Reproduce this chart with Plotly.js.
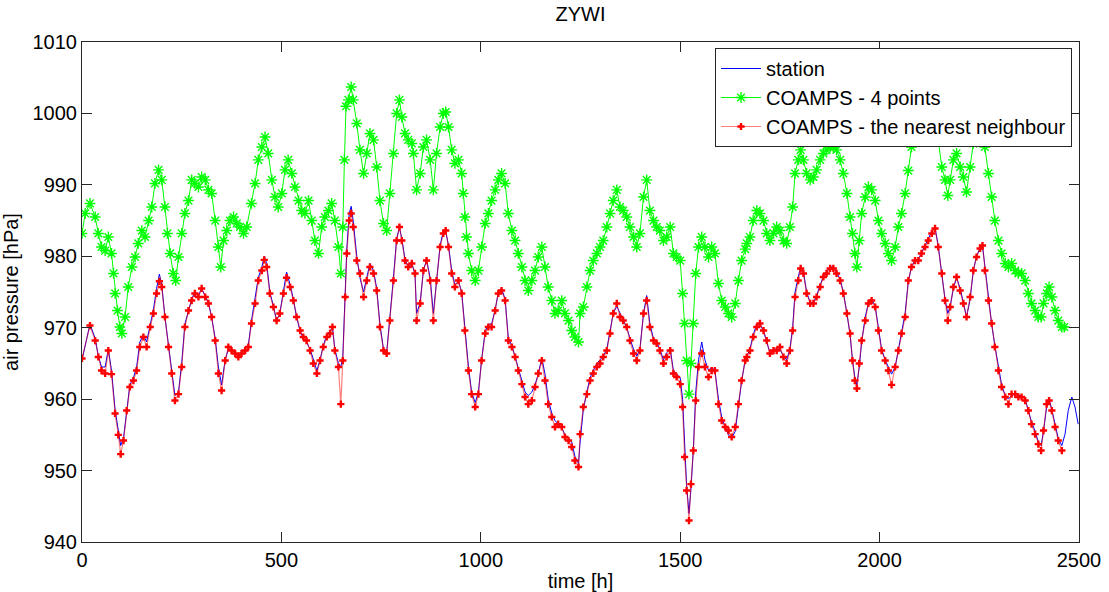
<!DOCTYPE html>
<html><head><meta charset="utf-8">
<script src="https://cdn.plot.ly/plotly-3.0.1.min.js"></script>
<style>html,body{margin:0;padding:0;background:#fff}#chart{width:1109px;height:592px}</style>
</head><body><div id="chart"></div>
<script>
// time [h] of readings for the model series (nearest neighbour) and station
const tModel = [
0,20,33,41,49,58,66,74,83,91,
97,104,112,120,129,137,145,154,162,171,
179,187,194,200,208,217,225,233,242,250,
258,267,275,283,292,300,309,317,325,334,
342,350,359,367,375,384,392,400,409,417,
425,434,442,451,457,463,471,480,488,496,
505,513,522,530,538,547,555,563,572,580,
589,597,605,614,622,628,634,643,649,654,
660,664,670,675,680,689,697,706,714,722,
731,739,747,756,764,772,781,789,796,802,
810,818,827,835,839,848,856,864,873,881,
889,898,906,912,919,927,935,944,952,960,
969,977,986,994,1002,1011,1019,1027,1036,1044,
1052,1061,1069,1078,1086,1094,1103,1111,1119,1128,
1136,1144,1153,1161,1169,1178,1186,1194,1203,1211,
1220,1228,1236,1245,1249,1257,1266,1274,1282,1291,
1299,1307,1316,1324,1332,1341,1349,1357,1366,1374,
1383,1391,1399,1408,1416,1424,1433,1441,1449,1458,
1466,1475,1483,1491,1500,1506,1511,1516,1522,1527,
1533,1539,1546,1554,1562,1571,1579,1587,1596,1604,
1613,1621,1629,1638,1646,1654,1663,1667,1675,1683,
1692,1700,1709,1717,1725,1734,1742,1750,1759,1767,
1775,1782,1788,1796,1802,1809,1817,1826,1834,1842,
1851,1859,1867,1876,1884,1892,1901,1909,1918,1926,
1932,1938,1943,1949,1955,1964,1972,1980,1989,1997,
2005,2014,2022,2030,2039,2047,2055,2064,2072,2080,
2089,2097,2105,2114,2122,2131,2139,2147,2156,2164,
2171,2177,2185,2193,2202,2210,2218,2227,2235,2243,
2252,2258,2264,2273,2281,2289,2298,2306,2315,2323,
2331,2340,2348,2356,2365,2373,2381,2390,2398,2405,
2411,2419,2425,2432,2440,2448,2457
];
// COAMPS - the nearest neighbour [hPa]
const pNearest = [
965.7,970.3,968.2,965.9,964,963.6,966.8,963.5,958,955,
952.3,954.2,958.4,961.7,962.6,964,967.3,968.7,967.3,970.1,
972,974.8,976.5,975.7,971.5,967.3,963.6,959.8,960.7,964.5,
970.1,972.4,973.8,974.8,974.3,975.5,974.3,973.4,971.5,968.2,
963.6,961.2,965.4,967.3,966.8,966.4,965.9,966.4,966.8,967.3,
970.6,973.4,976.6,978,979.5,978.5,974.8,972.9,971,972,
974.8,977,975.7,973.8,971.5,969.6,968.7,968.2,966.8,965,
963.6,965.4,967.3,968.7,969.2,970.1,966.8,964.5,959.3,965.4,
974.3,980.4,985,986,984.1,979.4,977.6,974.3,976.6,978.5,
977.6,975.2,970.1,966.8,966.4,971,976.6,982.2,984.1,982.2,
979.4,978.5,979,977.6,971,973.4,978,979.4,976.6,971,
976.6,981.3,983.2,983.6,981.3,977.6,975.7,976.6,974.8,969.6,
964,960.7,958.9,960.7,965.4,969.2,970.1,970.1,972.4,974.8,
975.2,973.8,968.2,967.3,965.9,964,962.1,960.3,959.3,959.8,
961.7,963.6,965.4,962.6,959.3,957.5,956.1,956.5,956.1,954.7,
954.2,953.3,951.4,950.5,955.1,958.9,960.7,962.6,963.6,964.5,
965,965.9,966.8,969.2,972,973.4,971.5,971,970.1,968.2,
966.4,965.4,966.8,972,973.8,970.1,968.2,967.8,966.8,965,
965.9,966.8,963.6,963.1,962.1,958.9,951.9,947.2,943,948.1,
952.8,959.8,964.5,966.4,964.5,963.1,964,964,959.3,957,
956.1,955.6,954.7,956.1,959.3,962.6,965.4,965.9,966.8,968.7,
970.1,970.6,969.6,968.2,966.4,966.8,966.8,967.3,965.9,965,
966.8,969.6,974.3,976.6,978.3,977.6,974.8,973.4,973.4,974.3,
975.7,977.1,977.6,978.3,978.3,977.6,976.6,974.8,972,969.2,
965.4,962.6,961.5,965,968.2,971,973.4,973.8,972.9,969.6,
966.8,965.4,964,962,964.5,966.8,969.2,971.5,976.6,978.5,
979.4,979.4,980.4,981.3,982.2,983.2,983.9,981.3,977.6,973.8,
971,972.9,975.7,977.1,975.2,973.4,971.5,974.3,978,979.9,
981.1,981.5,978,973.8,970.6,967.3,964,961.7,960.3,959.3,
960.7,960.7,960.3,960.3,959.8,958.4,956.5,955.1,953.7,952.8,
955.6,959.3,959.8,958.4,956.1,954.2,952.8
];
// station [hPa], same hours as tModel plus the tail below
const pStation = [
965.5,970.5,968.5,966,964.5,964.5,967,964,958.5,955.5,
953.5,954.5,958.5,962,963,964.5,968,969,968,970.5,
972.5,975.5,977.5,976,971.5,967.5,964,960.5,961,965,
970.5,972.5,974,975,974.5,975.5,974.5,973.5,971.5,968.5,
964.5,962,965.5,967,967,966.5,966,966.5,967,967.5,
971,974,977,978.5,980,979,975,973,971,972,
975,977.8,976,974,971.5,969.5,968.5,968,967,965.5,
964,965.5,967.5,969,969.5,970,967,965,964.5,966,
975,981,986,987,985,980,977,975,977,979,
978,975.5,970.5,967,966.5,971,977,982.5,984,982.5,
979.5,978.5,979,977.5,972,973.5,978,979.5,977,972,
977,981.5,983.5,983.5,981.5,978,976,976.5,975,970,
964.5,961,959.5,961,965.5,969.5,970.5,970.5,972.5,975,
975.5,974,968.5,967.5,966,964.5,962.5,961,960.5,961,
962,963.5,965.8,963.5,960,958,957,956.5,956,955,
954.5,954,952,951,954,958.5,961,963,964,965,
965.5,966,967,969.5,972,973,972,971,970,968.5,
967,966,967,972,974.5,970.5,968.5,968,967,965.5,
966.5,967,964,963.5,963,960,953,948,944,947.5,
953,961,965.5,968,965.5,964,964.5,964,960,957.5,
956,955,954.5,955.5,959,962.5,965.5,966,967,969,
970.5,970.5,969.5,968,966.5,967,967,967,966,965.5,
967,970,975,977,978.6,977.8,975,973.5,973.5,974.5,
976,977.2,977.8,978.5,978.5,977.8,976.8,975,972,969,
965.5,963,962,964.5,968,971.5,973.5,974,973,970,
967,965.5,964.5,963.5,964.5,967,969.5,972,976.5,978.5,
979.5,979.5,980.5,981.5,982.5,983.5,984,981.5,977.5,974,
972,973,975.5,977,975.5,973.5,971.5,974,978,980,
981.2,981.5,978.5,974,970.5,967.5,964.5,962,960.5,960,
960.5,960.8,960.5,960.5,960,958.5,956.8,955.5,954,953.5,
955.5,959,960,958.5,956.5,954.5,953.5
];
const tStationTail = [2465,2473,2482,2490,2498];
const pStationTail = [955.1,958.4,960.3,958.9,956.5];

// COAMPS - 4 points
const t4 = [
0,8,20,33,41,49,58,66,74,79,
83,89,95,100,108,116,125,133,141,150,
158,167,175,183,192,200,208,214,221,229,
235,242,250,258,267,275,283,292,300,309,
317,325,334,342,348,355,363,371,380,388,
396,405,413,425,434,442,451,459,467,476,
484,492,501,509,517,526,534,543,551,559,
568,576,584,593,601,609,618,626,634,643,
649,654,658,662,668,675,680,689,697,706,
714,722,731,739,747,756,764,772,781,789,
796,802,810,818,827,831,839,848,856,864,
873,881,889,898,906,912,919,927,935,944,
952,956,960,964,969,977,986,994,1002,1011,
1019,1027,1036,1044,1052,1061,1069,1078,1086,1094,
1103,1111,1119,1128,1136,1144,1153,1161,1169,1178,
1186,1194,1203,1211,1220,1228,1236,1245,1249,1257,
1266,1274,1282,1291,1299,1307,1316,1324,1332,1341,
1349,1357,1366,1374,1383,1391,1399,1408,1416,1424,
1433,1441,1449,1458,1466,1475,1483,1491,1500,1506,
1511,1516,1522,1527,1533,1539,1546,1554,1562,1571,
1579,1587,1596,1604,1613,1621,1629,1638,1646,1654,
1663,1667,1675,1683,1692,1700,1709,1717,1725,1734,
1742,1750,1759,1767,1775,1782,1788,1796,1802,1809,
1817,1826,1834,1842,1851,1859,1867,1876,1884,1892,
1901,1909,1918,1926,1932,1938,1943,1949,1955,1964,
1972,1980,1989,1997,2005,2014,2022,2030,2039,2047,
2055,2064,2072,2080,2089,2097,2105,2114,2122,2131,
2139,2147,2156,2164,2171,2177,2185,2193,2202,2210,
2218,2227,2235,2243,2252,2258,2264,2273,2281,2289,
2298,2306,2315,2323,2331,2340,2348,2356,2365,2373,
2381,2390,2398,2405,2411,2419,2425,2432,2440,2448,
2457,2463
];
const p4 = [
983.2,986,987.4,985.5,983.2,981.3,980.8,982.7,980.4,977.6,
974.8,972.4,970.1,969.2,971.5,975.7,978.5,979.9,981.8,983.6,
982.7,985,986.9,990.2,992.1,990.7,986.9,983.2,980.4,977.6,
976.6,979.9,983.2,986,987.8,990.7,990.2,989.7,991.1,990.7,
989.3,988.8,985,981.3,978.5,982.2,983.6,985,985.5,984.6,
984.1,983.2,984.1,987.4,990.2,993.5,995.3,996.7,994.4,990.7,
988.3,986.9,988.8,992.1,993.5,991.6,989.7,987.8,986.4,986,
987.8,985,982.2,980.4,984.1,985.5,986.4,987.4,985,981.3,
977.6,984.1,993.5,1001,1001.9,1003.7,1001.9,998.6,994.9,991.6,
994.4,997.2,996.3,992.5,987.8,984.6,983.6,988.8,994.4,1000,
1001.9,999.5,997.2,996.3,995.8,994.4,989.3,991.6,995.3,996.3,
993.5,989.3,994.4,998.1,1000,1000.2,998.1,994.9,993,993.5,
991.6,988.8,985.5,982.7,980.4,978,976.6,978,981.3,984.6,
986,987.8,989.3,990.7,991.6,990.2,986,983.6,982.2,980.4,
978.5,976.6,975.2,976.6,978,979.9,981.3,978.5,975.7,973.8,
972,972.4,973.8,972,971,969.6,968.7,968,972,972.9,
975.7,978,979.4,980.4,981.3,982.2,984.1,986,987.8,989.3,
986.9,986.4,985.5,984.1,982.7,981.3,983.2,988.3,990.7,986.4,
985,984.1,983.6,982.2,982.7,984.1,980.4,979.9,979.4,974.8,
970.6,965.4,960.7,965,970.6,977.6,981.3,982.7,981.3,979.9,
981.3,980.4,976.2,973.8,972.9,972,971.5,973.4,976.6,979.4,
981,981.8,982.7,985,986.4,986,985,983.2,982.2,983.2,
984.1,983.6,982.2,981.8,984.1,986.9,991.6,993.5,994.9,993.5,
991.6,990.7,991.1,992.1,993.5,994.4,994.9,995.3,995.3,994.9,
993.5,991.6,988.8,985.5,983.2,980.4,978.5,982.2,986,988.3,
989.7,989.3,987.8,985,983.2,981.8,980.4,979.4,981.3,984.1,
986,988.8,992,995.3,997.2,998.1,999.1,999.5,999.5,999.5,
999,996.3,992.5,990.7,988.5,990.7,993.5,994.4,992.5,991.1,
989,992.5,995.8,997.7,998.1,997.7,995.3,991.6,988.3,985,
982.2,980.4,979,978.5,979,978,977.6,977.6,976.6,974.8,
973.4,972.4,971.5,971.5,973.4,974.8,975.7,974.3,972.4,971,
970.1,970.1
];

const xTicks = [0,500,1000,1500,2000,2500];
const yTicks = [940,950,960,970,980,990,1000,1010];

const FONT = 'Liberation Sans, Arial, Helvetica, sans-serif';

const traces = [
  {
    name: 'station', type: 'scatter', mode: 'lines',
    x: tModel.concat(tStationTail), y: pStation.concat(pStationTail),
    line: {color: '#0000ff', width: 1}
  },
  {
    name: 'COAMPS - 4 points', type: 'scatter', mode: 'lines+markers',
    x: t4, y: p4,
    line: {color: '#00ff00', width: 1},
    marker: {symbol: 'asterisk-open', size: 9, color: '#00ff00', line: {color: '#00ff00', width: 1.4}}
  },
  {
    name: 'COAMPS - the nearest neighbour', type: 'scatter', mode: 'lines+markers',
    x: tModel, y: pNearest,
    line: {color: 'rgba(255,0,0,0.5)', width: 1.2},
    marker: {symbol: 'cross', size: 6, color: '#ff0000', line: {width: 0}}
  }
];

const axisCommon = {
  showline: true, linecolor: '#262626', linewidth: 1, mirror: 'ticks',
  ticks: 'inside', ticklen: 10, tickwidth: 1, tickcolor: '#262626',
  showgrid: false, zeroline: false,
  tickfont: {family: FONT, size: 20, color: '#000'}
};

const layout = {
  width: 1109, height: 592,
  margin: {l: 82, r: 30, t: 42, b: 50},
  paper_bgcolor: '#fff', plot_bgcolor: '#fff',
  font: {family: FONT, size: 20, color: '#000'},
  title: {text: 'ZYWI', font: {family: FONT, size: 20, color: '#000'},
          x: 0.5, xref: 'paper', y: 1 - 14/592, yref: 'container', yanchor: 'middle'},
  xaxis: Object.assign({}, axisCommon, {
    range: [0, 2500], tickvals: xTicks, ticktext: xTicks.map(String),
    title: {text: 'time [h]', font: {family: FONT, size: 20, color: '#000'}, standoff: 3},
    automargin: false
  }),
  yaxis: Object.assign({}, axisCommon, {
    range: [940, 1010], tickvals: yTicks, ticktext: yTicks.map(String),
    title: {text: 'air pressure [hPa]', font: {family: FONT, size: 20, color: '#000'}, standoff: 8},
    automargin: false
  }),
  showlegend: true,
  legend: {
    x: 0.993, xanchor: 'right', y: 0.988, yanchor: 'top',
    bgcolor: '#fff', bordercolor: '#262626', borderwidth: 1,
    font: {family: FONT, size: 20, color: '#000'},
    tracegroupgap: 0, itemwidth: 40
  }
};

Plotly.newPlot('chart', traces, layout, {staticPlot: true, displayModeBar: false});
</script>
</body></html>
